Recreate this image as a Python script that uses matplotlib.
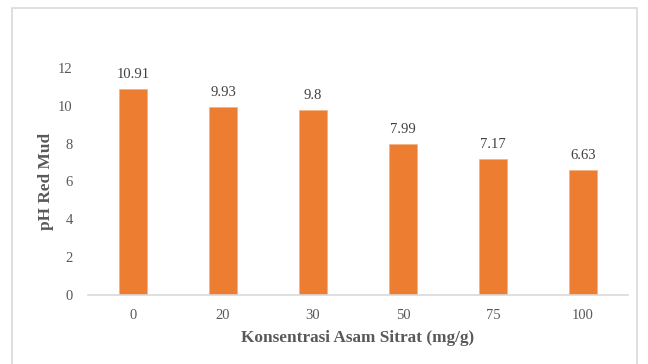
import matplotlib.pyplot as plt
from matplotlib.patches import Rectangle

# pH of red mud at each citric acid concentration
konsentrasi = ["0", "20", "30", "50", "75", "100"]
ph_values = [10.91, 9.93, 9.8, 7.99, 7.17, 6.63]
value_labels = ["10.91", "9.93", "9.8", "7.99", "7.17", "6.63"]
y_ticks = [0, 2, 4, 6, 8, 10, 12]

plt.rcParams['font.family'] = ['Liberation Serif', 'DejaVu Serif']

fig = plt.figure(figsize=(6.48, 3.64), dpi=100)
ax = fig.add_axes([88 / 648, 1 - 295 / 364, 540 / 648, 227 / 364])

# chart frame, bottom edge runs off the page
fig.patches.append(Rectangle((12 / 648, -0.05), 625 / 648, 1 - 8 / 364 + 0.05,
                             transform=fig.transFigure, fill=False,
                             edgecolor="#d9d9d9", linewidth=1.2))

x = range(len(konsentrasi))
ax.bar(x, ph_values, width=0.31, color="#ED7D31", edgecolor="#f4b183", linewidth=0.5)

for i, (v, lab) in enumerate(zip(ph_values, value_labels)):
    ax.text(i, v + 0.42, lab, ha="center", va="bottom", fontsize=10.5, color="#404040")

ax.set_xlim(-0.5, len(konsentrasi) - 0.5)
ax.set_ylim(0, 12)
ax.set_xticks(list(x))
ax.set_xticklabels(konsentrasi)
ax.set_yticks(y_ticks)
ax.tick_params(axis="both", length=0, labelsize=10.5, labelcolor="#595959")
ax.tick_params(axis="x", pad=10)
ax.tick_params(axis="y", pad=11)

for s in ["top", "right", "left"]:
    ax.spines[s].set_visible(False)
ax.spines["bottom"].set_color("#d9d9d9")
ax.spines["bottom"].set_linewidth(1.2)

ax.set_xlabel("Konsentrasi Asam Sitrat (mg/g)", fontsize=12.4, fontweight="bold",
              color="#595959", labelpad=6)
ax.set_ylabel("pH Red Mud", fontsize=12.4, fontweight="bold", color="#595959", labelpad=3)

fig.savefig("out.png", dpi=100)
